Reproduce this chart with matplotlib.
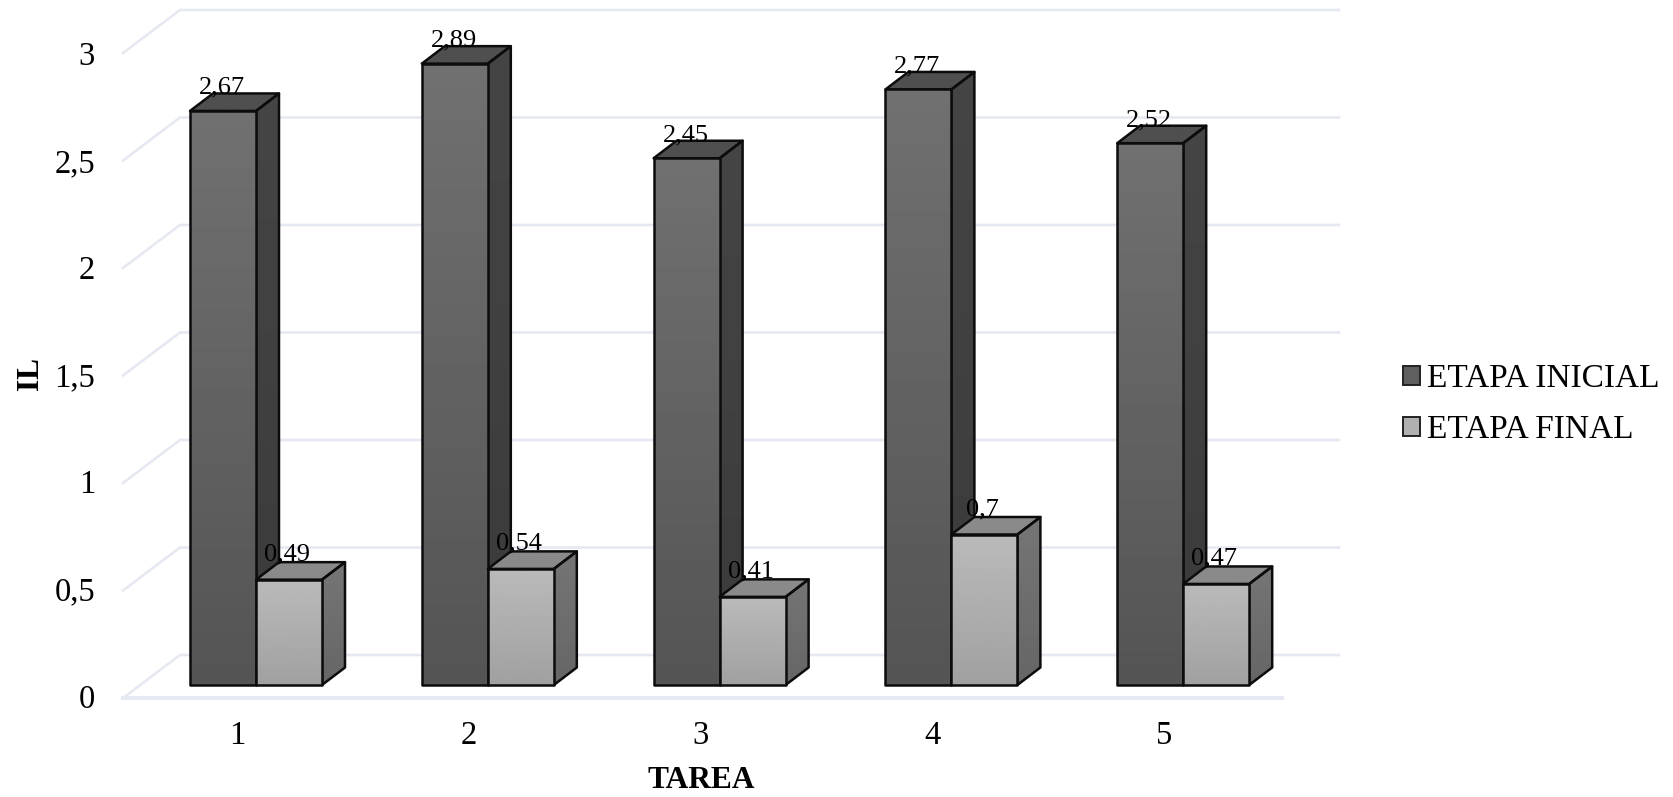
#!/usr/bin/env python3
import numpy as np
import matplotlib
matplotlib.use("Agg")
import matplotlib.pyplot as plt
from matplotlib.patches import Polygon, Patch

plt.rcParams['font.family'] = ['Liberation Serif', 'DejaVu Serif']

# Data
tasks = [1, 2, 3, 4, 5]
etapa_inicial = [2.67, 2.89, 2.45, 2.77, 2.52]
etapa_final = [0.49, 0.54, 0.41, 0.70, 0.47]
y_ticks = [0, 0.5, 1, 1.5, 2, 2.5, 3]
y_tick_labels = ['0', '0,5', '1', '1,5', '2', '2,5', '3']
series_names = ['ETAPA INICIAL', 'ETAPA FINAL']

# Pixel layout of the reference (1 unit on y = 215 px, 1 task on x = 231.8 px)
W, H = 1673, 797
PX_X, PX_Y = 231.8, 215.0
X0, Y0 = 256.0, 685.0   # where task 1 / value 0 sit, in pixels
BAR_W = 66 / PX_X
DX, DY = 23 / PX_X, 17.5 / PX_Y   # depth of a bar
GRID = '#e6e9f1'


def px_x(p):
    return 1 + (p - X0) / PX_X


def px_y(p):
    return (Y0 - p) / PX_Y


def gradient_poly(ax, pts, top_col, bot_col, zorder):
    # polygon filled with a vertical gradient, black outline on top
    pts = np.array(pts)
    xs, ys = pts[:, 0], pts[:, 1]
    grad = np.linspace(top_col, bot_col, 64)[:, None]
    poly = Polygon(pts, closed=True, fc='none', ec='#0c0c0c', lw=1.8,
                   zorder=zorder + 0.1, joinstyle='round')
    im = ax.imshow(grad, cmap='gray', vmin=0, vmax=1, aspect='auto', zorder=zorder,
                   extent=(xs.min(), xs.max(), ys.min(), ys.max()), origin='upper',
                   interpolation='bilinear')
    ax.add_patch(poly)
    im.set_clip_path(poly)


def draw_bar(ax, x, value, colors, zorder):
    front_top, front_bot, side_top, side_bot, top = colors
    left, right = x, x + BAR_W
    gradient_poly(ax, [(right, 0), (right + DX, DY), (right + DX, value + DY), (right, value)],
                  side_top, side_bot, zorder)
    gradient_poly(ax, [(left, value), (right, value), (right + DX, value + DY), (left + DX, value + DY)],
                  top, top, zorder)
    gradient_poly(ax, [(left, 0), (right, 0), (right, value), (left, value)],
                  front_top, front_bot, zorder + 0.2)


fig = plt.figure(figsize=(W / 100, H / 100), dpi=100)
ax = fig.add_axes([0, 0, 1, 1])
ax.set_xlim(px_x(0), px_x(W))
ax.set_ylim(px_y(H), px_y(0))
ax.axis('off')

# 3D wall and floor
floor = -13 / PX_Y
back_dx, back_dy = 57 / PX_X, 43 / PX_Y
x_left, x_right = px_x(123), px_x(1282)
for t, lab in zip(y_ticks, y_tick_labels):
    y = floor + t
    ax.plot([x_left, x_left + back_dx, x_right + back_dx],
            [y, y + back_dy, y + back_dy], color=GRID, lw=1.9, zorder=1,
            solid_joinstyle='miter')
    ax.text(px_x(95), y - 1.5 / PX_Y - t * 0.7 / PX_Y, lab, fontsize=23.5, ha='right', va='center')
ax.plot([x_left, x_right], [floor, floor], color=GRID, lw=2.8, zorder=1)

dark = (0.44, 0.33, 0.27, 0.23, 0.31)
light = (0.73, 0.63, 0.46, 0.40, 0.54)
for i, task in enumerate(tasks):
    a, b = etapa_inicial[i], etapa_final[i]
    draw_bar(ax, task - BAR_W, a, dark, 2 + i)
    draw_bar(ax, task, b, light, 2.5 + i)
    ax.text(task - BAR_W + 32 / PX_X, a + 12 / PX_Y, str(a).replace('.', ','),
            fontsize=19, ha='center', va='bottom', zorder=10)
    ax.text(task + 31 / PX_X, b + 14 / PX_Y, str(b).replace('.', ','),
            fontsize=19, ha='center', va='bottom', zorder=10)
    ax.text(task - 19 / PX_X, px_y(736), str(task), fontsize=23.5, ha='center', va='center')

ax.text(px_x(701), px_y(780), 'TAREA', fontsize=22.7, fontweight='bold', ha='center', va='center')
ax.text(px_x(30), px_y(373), 'IL', fontsize=22.7, fontweight='bold', rotation=90, ha='center', va='center')

handles = [Patch(fc='#5f5f5f', ec='#222222', lw=1.4), Patch(fc='#b0b0b0', ec='#222222', lw=1.4)]
ax.legend(handles, series_names, loc='center left', bbox_to_anchor=(1403 / W, 1 - 404.5 / H),
          bbox_transform=fig.transFigure, frameon=False, fontsize=24, handlelength=0.52,
          handleheight=0.52, handletextpad=0.2, labelspacing=0.625, borderpad=0, borderaxespad=0)

fig.savefig('out.png', dpi=100, facecolor='white')
